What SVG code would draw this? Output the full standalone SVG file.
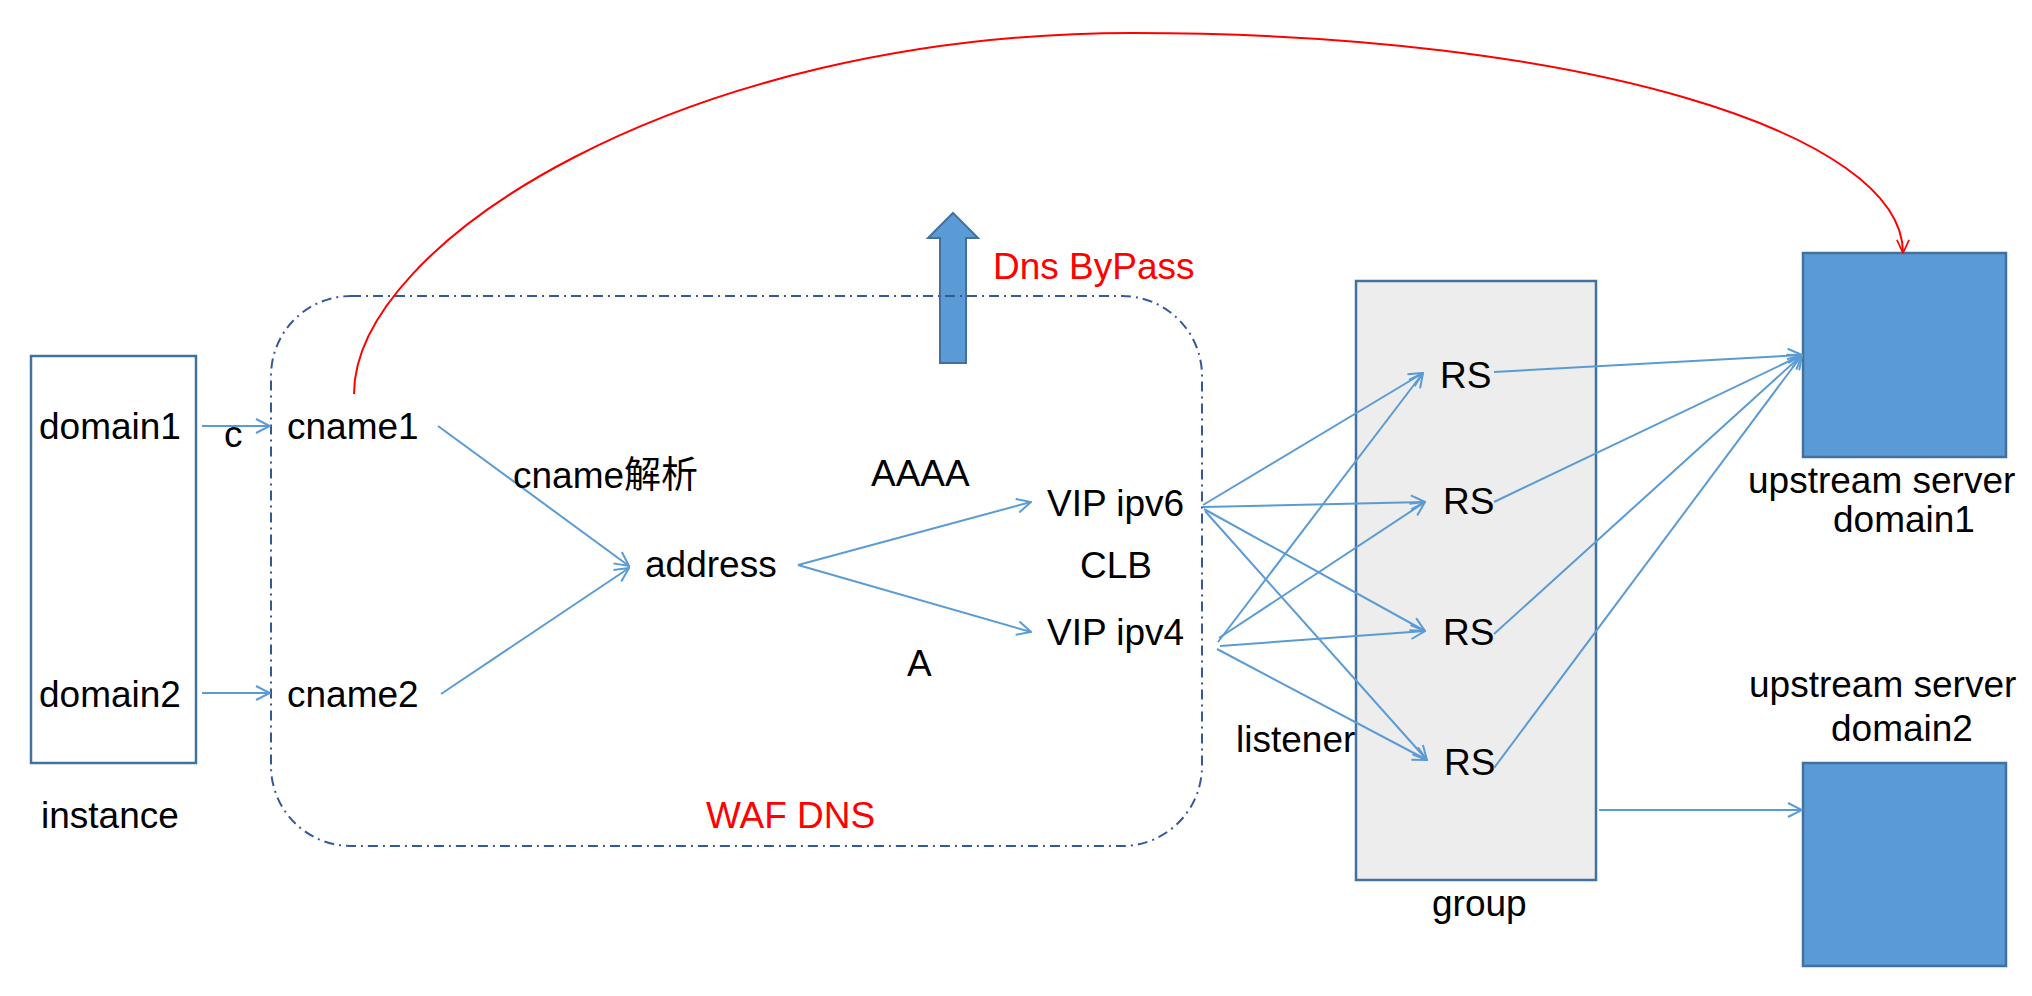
<svg xmlns="http://www.w3.org/2000/svg" width="2032" height="996" viewBox="0 0 2032 996">
<style>
text{font-family:"Liberation Sans","Noto Sans CJK SC",Arial,sans-serif;font-size:37px;fill:#000}
.red{fill:#FF0000}
.box{stroke:#41719C;stroke-width:2.5}
.conn{fill:none;stroke:#5B9BD5;stroke-width:2}
</style>
<defs>
<marker id="ah" viewBox="0 0 16 16" refX="15" refY="8" markerWidth="16" markerHeight="16" markerUnits="userSpaceOnUse" orient="auto">
<path d="M1,1 L15,8 L1,15" fill="none" stroke="#5B9BD5" stroke-width="2"/>
</marker>
<marker id="ahr" viewBox="0 0 16 16" refX="15" refY="8" markerWidth="15" markerHeight="15" markerUnits="userSpaceOnUse" orient="auto">
<path d="M1,1.5 L15,8 L1,14.5" fill="none" stroke="#FF0000" stroke-width="1.8"/>
</marker>
</defs>
<rect width="2032" height="996" fill="#FFFFFF"/>

<g id="group">
<rect class="box" x="1356" y="281" width="240" height="599" fill="#EDEDED"/>
<text x="1432" y="916">group</text>
</g>

<g id="upstream1">
<rect class="box" x="1803" y="253" width="203" height="204" fill="#5B9BD5"/>
<text x="1748" y="493">upstream server</text>
<text x="1833" y="532">domain1</text>
</g>

<g id="upstream2">
<rect class="box" x="1803" y="763" width="203" height="203" fill="#5B9BD5"/>
<text x="1749" y="697">upstream server</text>
<text x="1831" y="741">domain2</text>
</g>

<g id="instance">
<rect class="box" x="31" y="356" width="165" height="407" fill="none"/>
<text x="39" y="439">domain1</text>
<text x="39" y="707">domain2</text>
<text x="41" y="828">instance</text>
</g>

<g id="bypass">
<polygon points="953,213 978,238 966,238 966,363 940,363 940,238 928,238" fill="#5B9BD5" stroke="#41719C" stroke-width="2"/>
<text class="red" x="993" y="279">Dns ByPass</text>
</g>

<g id="waf">
<rect x="271" y="296" width="931" height="550" rx="80" ry="80" fill="none" stroke="#35589A" stroke-width="2" stroke-dasharray="10 5 2 5"/>
<text class="red" x="706" y="828">WAF DNS</text>
</g>

<g id="cname1"><text x="287" y="439">cname1</text></g>
<g id="cname2"><text x="287" y="707">cname2</text></g>
<g id="address"><text x="645" y="577">address</text></g>
<g id="clb">
<text x="1047" y="516">VIP ipv6</text>
<text x="1080" y="578">CLB</text>
<text x="1047" y="645">VIP ipv4</text>
</g>
<g id="rs1"><text x="1440" y="388">RS</text></g>
<g id="rs2"><text x="1443" y="514">RS</text></g>
<g id="rs3"><text x="1443" y="645">RS</text></g>
<g id="rs4"><text x="1444" y="775">RS</text></g>

<g id="connectors">
<path class="conn" marker-end="url(#ah)" d="M202,426 L270,426"/>
<path class="conn" marker-end="url(#ah)" d="M202,693 L270,693"/>
<path class="conn" marker-end="url(#ah)" d="M438,426 L629,566"/>
<path class="conn" marker-end="url(#ah)" d="M441,694 L629,568"/>
<path class="conn" marker-end="url(#ah)" d="M798,565 L1031,502"/>
<path class="conn" marker-end="url(#ah)" d="M798,565 L1031,632"/>
<path class="conn" marker-end="url(#ah)" d="M1203,505 L1423,373"/>
<path class="conn" marker-end="url(#ah)" d="M1203,507 L1425,502"/>
<path class="conn" marker-end="url(#ah)" d="M1204,509 L1425,631"/>
<path class="conn" marker-end="url(#ah)" d="M1205,511 L1427,760"/>
<path class="conn" marker-end="url(#ah)" d="M1218,642 L1423,373"/>
<path class="conn" marker-end="url(#ah)" d="M1219,638 L1425,502"/>
<path class="conn" marker-end="url(#ah)" d="M1220,646 L1425,631"/>
<path class="conn" marker-end="url(#ah)" d="M1217,649 L1427,760"/>
<path class="conn" marker-end="url(#ah)" d="M1494,372 L1802,355"/>
<path class="conn" marker-end="url(#ah)" d="M1494,502 L1802,355"/>
<path class="conn" marker-end="url(#ah)" d="M1494,634 L1802,355"/>
<path class="conn" marker-end="url(#ah)" d="M1494,768 L1802,355"/>
<path class="conn" marker-end="url(#ah)" d="M1599,810 L1802,810"/>
<path fill="none" stroke="#FF0000" stroke-width="2" marker-end="url(#ahr)" d="M354,394 C354,244 682,33 1132,33 C1582,33 1903,133 1903,253"/>
<text x="224" y="447">c</text>
<text x="513" y="488">cname解析</text>
<text x="871" y="486">AAAA</text>
<text x="907" y="676">A</text>
<text x="1236" y="752">listener</text>
</g>
</svg>
